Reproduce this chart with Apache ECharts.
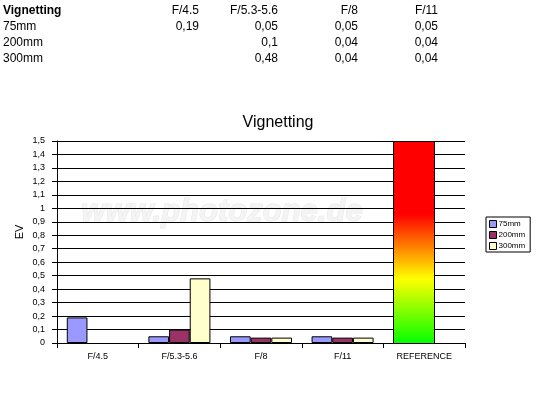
<!DOCTYPE html>
<html>
<head>
<meta charset="utf-8">
<script src="https://cdn.jsdelivr.net/npm/echarts@6/dist/echarts.min.js"></script>
<style>
html,body{margin:0;padding:0;background:#fff;}
#chart{width:556px;height:393px;}
</style>
</head>
<body>
<div id="chart"></div>
<script>
// ---- data ----
var tableTitle = 'Vignetting';
var categories = ['F/4.5', 'F/5.3-5.6', 'F/8', 'F/11', 'REFERENCE'];
var apertures = ['F/4.5', 'F/5.3-5.6', 'F/8', 'F/11'];
var seriesNames = ['75mm', '200mm', '300mm'];
var v75 = [0.19, 0.05, 0.05, 0.05, null];
var v200 = [null, 0.1, 0.04, 0.04, null];
var v300 = [null, 0.48, 0.04, 0.04, null];
var referenceValues = [null, null, null, null, 1.5];
var yTicks = [0, 0.1, 0.2, 0.3, 0.4, 0.5, 0.6, 0.7, 0.8, 0.9, 1, 1.1, 1.2, 1.3, 1.4, 1.5];
var seriesColors = ['#9999ff', '#993366', '#ffffcc'];

var FONT = "'Liberation Sans', Arial, sans-serif";
function fmt(v) { return String(Math.round(v * 100) / 100).replace('.', ','); }

var chart = echarts.init(document.getElementById('chart'), null, {renderer: 'canvas'});

// ---- table at top (text) ----
var colX = [199, 278, 358, 438];
var rowY = [11, 27, 43, 59];
var graphics = [];
graphics.push({type: 'text', x: 3, y: rowY[0], style: {text: tableTitle, font: 'bold 12px ' + FONT, fill: '#000', textVerticalAlign: 'middle'}});
apertures.forEach(function (a, i) {
  graphics.push({type: 'text', x: colX[i], y: rowY[0], style: {text: a, font: '12px ' + FONT, fill: '#000', textAlign: 'right', textVerticalAlign: 'middle'}});
});
var allVals = [v75, v200, v300];
seriesNames.forEach(function (n, r) {
  graphics.push({type: 'text', x: 3, y: rowY[r + 1], style: {text: n, font: '12px ' + FONT, fill: '#000', textVerticalAlign: 'middle'}});
  apertures.forEach(function (a, i) {
    var v = allVals[r][i];
    if (v != null) {
      graphics.push({type: 'text', x: colX[i], y: rowY[r + 1], style: {text: fmt(v), font: '12px ' + FONT, fill: '#000', textAlign: 'right', textVerticalAlign: 'middle'}});
    }
  });
});
// axis name
graphics.push({type: 'text', x: 20, y: 232, rotation: Math.PI / 2, style: {text: 'EV', font: '11px ' + FONT, fill: '#000', textAlign: 'center', textVerticalAlign: 'middle'}});
// watermark
graphics.push({type: 'text', x: 222, y: 212, z: -10, style: {text: 'www.photozone.de', font: 'italic bold 31px ' + FONT, fill: '#f4f4f4', textAlign: 'center', textVerticalAlign: 'middle', stroke: '#e6e6e6', lineWidth: 1, shadowColor: 'rgba(0,0,0,0.15)', shadowBlur: 3, shadowOffsetX: 1, shadowOffsetY: 1}});

var CAT_GAP = 0.24;
var refGradient = new echarts.graphic.LinearGradient(0, 0, 0, 1, [
  {offset: 0, color: '#ff0000'},
  {offset: 0.36, color: '#ff0000'},
  {offset: 0.68, color: '#ffff00'},
  {offset: 1, color: '#00ff00'}
]);

var barSeries = [v75, v200, v300].map(function (d, i) {
  return {
    name: seriesNames[i], type: 'bar', data: d,
    barGap: 0, barCategoryGap: (CAT_GAP * 100) + '%',
    itemStyle: {color: seriesColors[i], borderColor: '#000', borderWidth: 1},
    emphasis: {disabled: true}, animation: false
  };
});

var refData = referenceValues.map(function (v, i) { return v == null ? null : [i, v]; }).filter(function (d) { return d; });
barSeries.push({
  type: 'custom', name: 'ref', data: refData, animation: false,
  encode: {x: 0, y: 1},
  renderItem: function (params, api) {
    var idx = api.value(0), v = api.value(1);
    var top = api.coord([idx, v]);
    var bottom = api.coord([idx, 0]);
    var bw = api.size([1, 0])[0];
    var slot = bw * (1 - CAT_GAP) / 3;
    var left = bottom[0] - slot * 1.5;
    return {
      type: 'rect',
      shape: {x: Math.round(left) + 0.5, y: Math.round(top[1]) + 0.5, width: Math.round(slot * 2), height: Math.round(bottom[1] - top[1])},
      style: {fill: refGradient, stroke: '#000', lineWidth: 1}
    };
  }
});

chart.setOption({
  animation: false,
  backgroundColor: '#fff',
  textStyle: {fontFamily: FONT},
  title: {text: 'Vignetting', left: 'center', top: 110, textStyle: {fontFamily: FONT, fontSize: 16, fontWeight: 'normal', color: '#000'}},
  grid: {left: 57, right: 91, top: 141, bottom: 50, containLabel: false},
  legend: {
    data: seriesNames, orient: 'vertical', left: 486, top: 217,
    padding: [3, 5, 2, 3], itemWidth: 7, itemHeight: 7, itemGap: 3,
    borderColor: '#000', borderWidth: 1, icon: 'rect',
    itemStyle: {borderColor: '#000', borderWidth: 1},
    textStyle: {fontFamily: FONT, fontSize: 8, color: '#000', padding: [0, 0, 0, -3]}
  },
  xAxis: {
    type: 'category', data: categories,
    axisLine: {lineStyle: {color: '#000', width: 1}},
    axisTick: {show: true, length: 5, lineStyle: {color: '#000'}},
    axisLabel: {fontFamily: FONT, fontSize: 9, color: '#000', margin: 9, interval: 0}
  },
  yAxis: {
    type: 'value', min: yTicks[0], max: yTicks[yTicks.length - 1], interval: 0.1,
    axisLine: {show: true, lineStyle: {color: '#000', width: 1}},
    axisTick: {show: true, length: 5, lineStyle: {color: '#000'}},
    axisLabel: {fontFamily: FONT, fontSize: 9, color: '#000', margin: 12, formatter: function (v) { return fmt(v); }},
    splitLine: {show: true, lineStyle: {color: '#000', width: 1}}
  },
  graphic: graphics,
  series: barSeries
});
</script>
</body>
</html>
